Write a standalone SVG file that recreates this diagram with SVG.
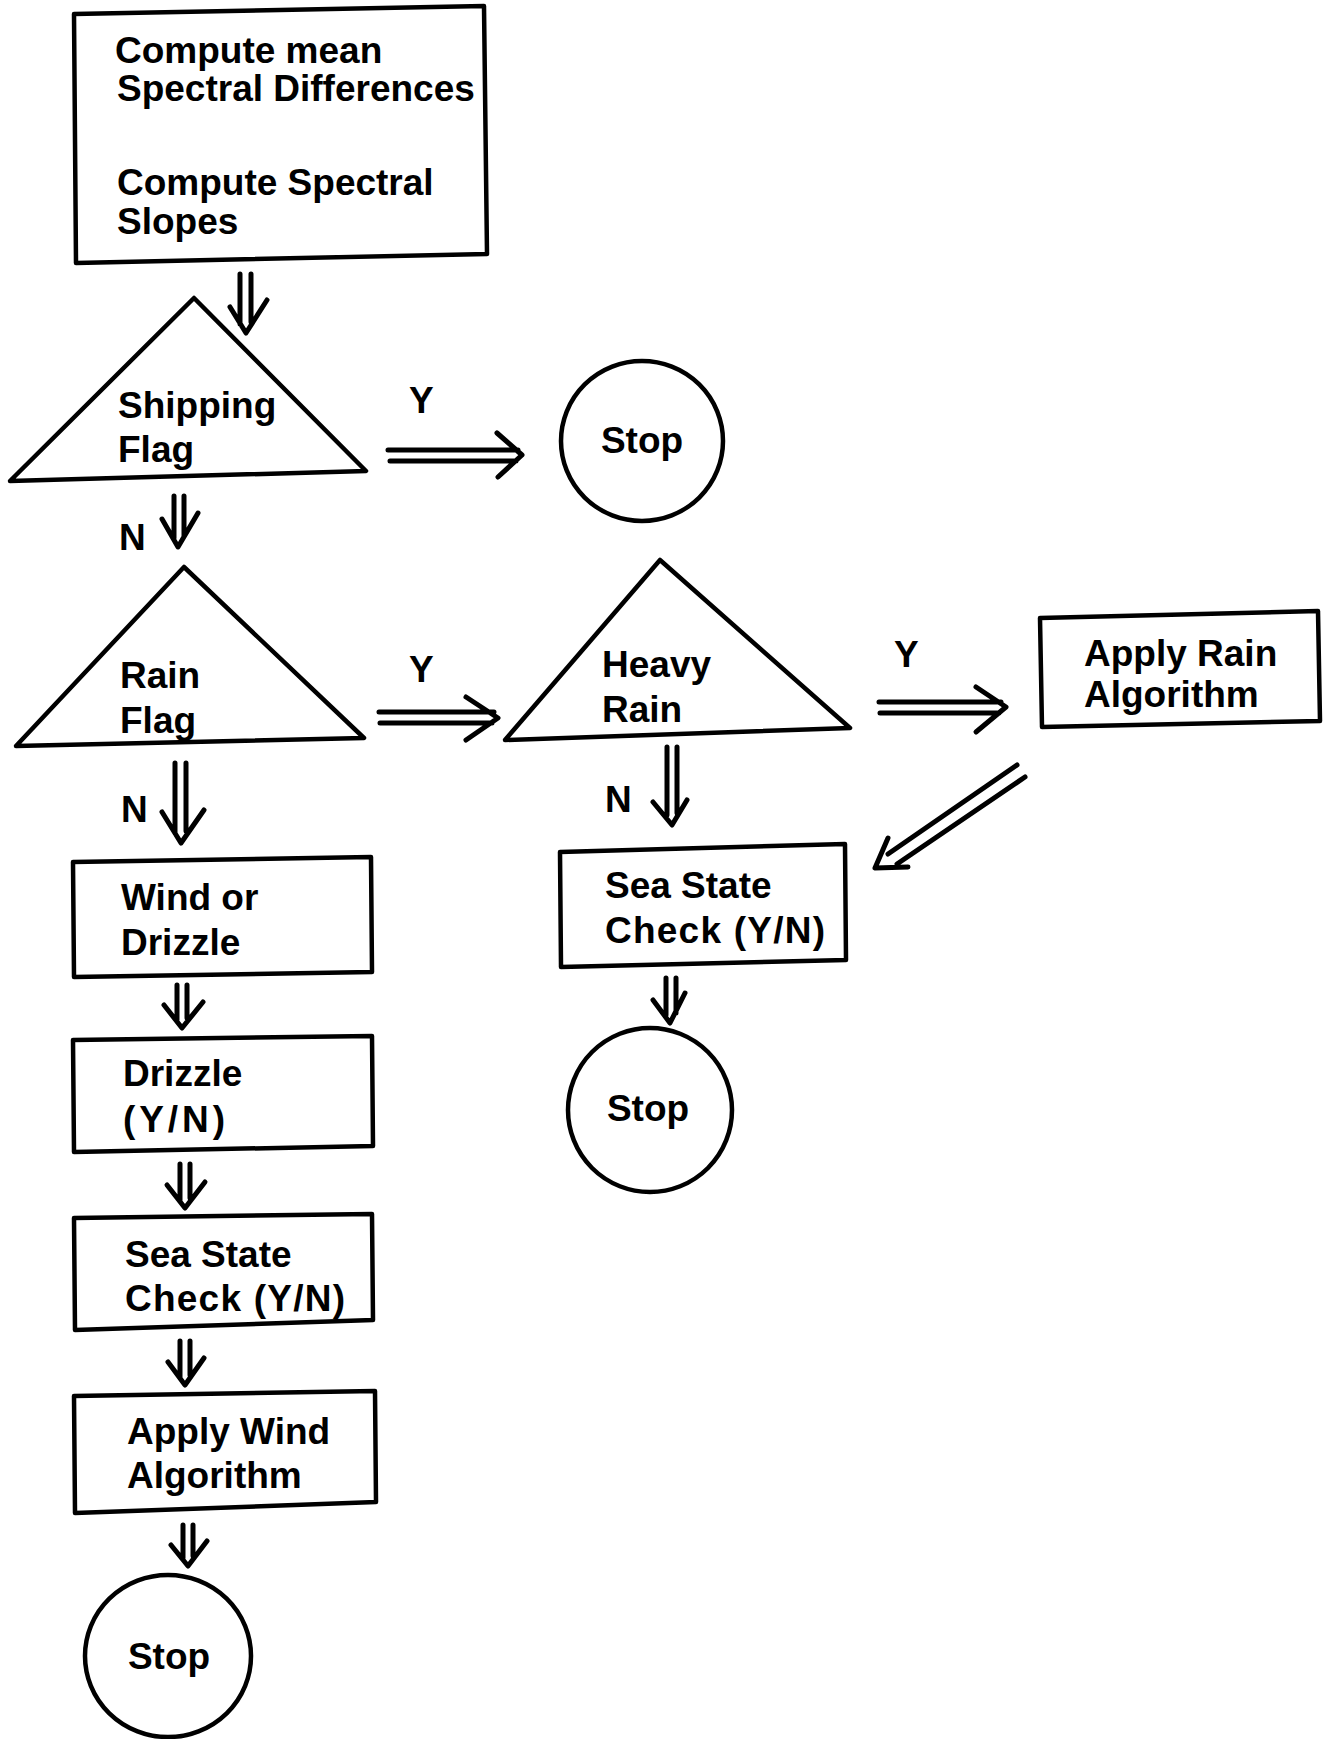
<svg xmlns="http://www.w3.org/2000/svg" width="1326" height="1739" viewBox="0 0 1326 1739">
<style>
.shape{fill:none;stroke:#000;stroke-width:4.5;stroke-linejoin:round}
.arr{fill:none;stroke:#000;stroke-width:5;stroke-linecap:round;stroke-linejoin:round}
text{font-family:"Liberation Sans",Arial,Helvetica,sans-serif;font-weight:bold;font-size:37px;fill:#000}
</style>
<rect width="1326" height="1739" fill="#fff"/>
<g id="compute">
<polygon class="shape" points="74,14 484,6 487,254 76,263"/>
<text x="115" y="63">Compute mean</text>
<text x="117" y="101">Spectral Differences</text>
<text x="117" y="195">Compute Spectral</text>
<text x="117" y="234">Slopes</text>
</g>
<g id="shipping">
<polygon class="shape" points="194,298 366,471 10,481"/>
<text x="118" y="418">Shipping</text>
<text x="118" y="462">Flag</text>
</g>
<g id="stop1">
<ellipse class="shape" cx="642" cy="441" rx="81" ry="80"/>
<text x="642" y="453" text-anchor="middle">Stop</text>
</g>
<g id="rain">
<polygon class="shape" points="184,567 364,738 16,746"/>
<text x="120" y="688">Rain</text>
<text x="120" y="733">Flag</text>
</g>
<g id="heavy">
<polygon class="shape" points="660,560 850,728 505,740"/>
<text x="602" y="677">Heavy</text>
<text x="602" y="722">Rain</text>
</g>
<g id="applyrain">
<polygon class="shape" points="1040,618 1318,611 1320,721 1042,727"/>
<text x="1084" y="666">Apply Rain</text>
<text x="1084" y="707">Algorithm</text>
</g>
<g id="seastate2">
<polygon class="shape" points="560,852 845,844 846,960 561,967"/>
<text x="605" y="898">Sea State</text>
<text x="605" y="943" textLength="220">Check (Y/N)</text>
</g>
<g id="stop2">
<ellipse class="shape" cx="650" cy="1110" rx="82" ry="82"/>
<text x="648" y="1121" text-anchor="middle">Stop</text>
</g>
<g id="wind">
<polygon class="shape" points="73,862 371,857 372,972 74,977"/>
<text x="121" y="910">Wind or</text>
<text x="121" y="955">Drizzle</text>
</g>
<g id="drizzle">
<polygon class="shape" points="73,1040 372,1036 373,1146 74,1152"/>
<text x="123" y="1086">Drizzle</text>
<text x="123" y="1132" textLength="102">(Y/N)</text>
</g>
<g id="seastate1">
<polygon class="shape" points="74,1218 372,1214 373,1320 75,1330"/>
<text x="125" y="1267">Sea State</text>
<text x="125" y="1311" textLength="220">Check (Y/N)</text>
</g>
<g id="applywind">
<polygon class="shape" points="74,1396 375,1391 376,1502 75,1513"/>
<text x="127" y="1444">Apply Wind</text>
<text x="127" y="1488">Algorithm</text>
</g>
<g id="stop3">
<ellipse class="shape" cx="168" cy="1656" rx="83" ry="81"/>
<text x="169" y="1669" text-anchor="middle">Stop</text>
</g>
<g id="connectors">
<path class="arr" d="M240 274 V324 M251 274 V322 M230 307 L246 333 L267 300"/>
<path class="arr" d="M388 450 H518 M390 461 H516 M497 433 L522 455 L498 477"/>
<path class="arr" d="M174 496 V538 M184 496 V536 M162 519 L178 547 L198 513"/>
<path class="arr" d="M379 712 H494 M380 723 H492 M466 697 L498 718 L466 740"/>
<path class="arr" d="M879 702 H1001 M880 713 H999 M976 687 L1006 707 L976 732"/>
<path class="arr" d="M175 763 V833 M186 763 V831 M162 812 L181 843 L204 810"/>
<path class="arr" d="M667 747 V815 M677 747 V813 M653 802 L672 825 L687 800"/>
<path class="arr" d="M1017 765 L888 854 M1025 777 L897 864 M888 838 L875 868 L908 867"/>
<path class="arr" d="M666 978 V1015 M676 978 V1013 M653 1000 L670 1023 L685 993"/>
<path class="arr" d="M177 985 V1020 M187 985 V1018 M164 1005 L182 1028 L203 1002"/>
<path class="arr" d="M180 1164 V1200 M190 1164 V1198 M167 1185 L185 1208 L205 1182"/>
<path class="arr" d="M180 1341 V1377 M190 1341 V1375 M168 1362 L185 1385 L204 1358"/>
<path class="arr" d="M183 1525 V1558 M193 1525 V1556 M171 1545 L188 1566 L207 1541"/>
<text x="409" y="413">Y</text>
<text x="119" y="550">N</text>
<text x="409" y="682">Y</text>
<text x="121" y="822">N</text>
<text x="894" y="667">Y</text>
<text x="605" y="812">N</text>
</g>
</svg>
